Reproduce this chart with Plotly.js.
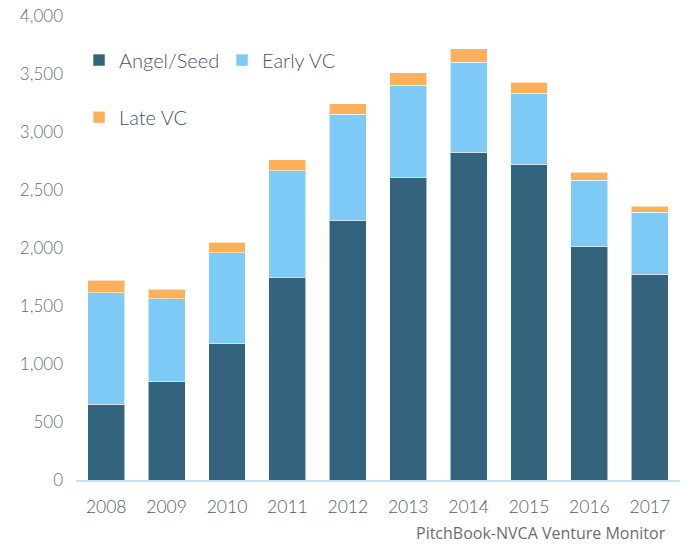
<!DOCTYPE html>
<html>
<head>
<meta charset="utf-8">
<script src="https://cdn.plot.ly/plotly-3.0.1.min.js"></script>
<style>html,body{margin:0;padding:0;background:#fff;}#chart{width:696px;height:544px;}</style>
</head>
<body>
<div id="chart"></div>
<script>
const years = ['2008','2009','2010','2011','2012','2013','2014','2015','2016','2017'];
const angelSeed = [655, 853, 1181, 1747, 2233, 2612, 2825, 2719, 2009, 1773];
const earlyVC   = [961, 711, 776, 920, 922, 791, 776, 617, 577, 537];
const lateVC    = [106, 80, 92, 92, 90, 109, 118, 92, 67, 52];
const yTicks = [0, 500, 1000, 1500, 2000, 2500, 3000, 3500, 4000];

const edge = {color: 'rgba(255,255,255,0.55)', width: 1};
const traces = [
  {type: 'bar', name: 'Angel/Seed', x: years, y: angelSeed,
   marker: {color: '#34637d', line: edge}, legend: 'legend'},
  {type: 'bar', name: 'Early VC', x: years, y: earlyVC,
   marker: {color: '#7ecaf7', line: edge}, legend: 'legend'},
  {type: 'bar', name: 'Late VC', x: years, y: lateVC,
   marker: {color: '#fbb15c', line: edge}, legend: 'legend2'}
];

const fam = 'Lato, "Open Sans", sans-serif';
const layout = {
  width: 696, height: 544,
  barmode: 'stack', bargap: 0.39,
  paper_bgcolor: '#ffffff', plot_bgcolor: '#ffffff',
  margin: {l: 76, r: 16, t: 16, b: 64},
  font: {family: fam, color: '#4d5e70'},
  showlegend: true,
  xaxis: {
    type: 'category', showgrid: false, zeroline: false,
    showline: true, linecolor: '#c9e2f3', linewidth: 2,
    ticks: '', tickfont: {size: 17.5, color: '#4d5e70', family: fam, weight: 300},
    ticklabelstandoff: 10
  },
  yaxis: {
    range: [0, 4000], tickvals: yTicks, tickformat: ',',
    showgrid: false, zeroline: false, showline: false, ticks: '',
    tickfont: {size: 17, color: '#5d6e80', family: fam, weight: 300},
    ticklabelstandoff: 12
  },
  legend: {
    orientation: 'h', x: 0.005, xanchor: 'left', y: 0.905, yanchor: 'middle',
    font: {size: 20, color: '#44556a', family: fam, weight: 300},
    bgcolor: 'rgba(0,0,0,0)', traceorder: 'normal',
    entrywidth: 98, entrywidthmode: 'pixels'
  },
  legend2: {
    orientation: 'h', x: 0.005, xanchor: 'left', y: 0.782, yanchor: 'middle',
    font: {size: 20, color: '#44556a', family: fam, weight: 300},
    bgcolor: 'rgba(0,0,0,0)'
  },
  annotations: [{
    text: 'PitchBook-NVCA Venture Monitor', xref: 'paper', yref: 'paper',
    x: 0.98, y: -0.114, xanchor: 'right', yanchor: 'middle', showarrow: false,
    font: {size: 16, color: '#6d6d6d', family: '"Open Sans", "Noto Sans", sans-serif'}
  }]
};

Plotly.newPlot('chart', traces, layout, {displayModeBar: false, staticPlot: true});
</script>
</body>
</html>
